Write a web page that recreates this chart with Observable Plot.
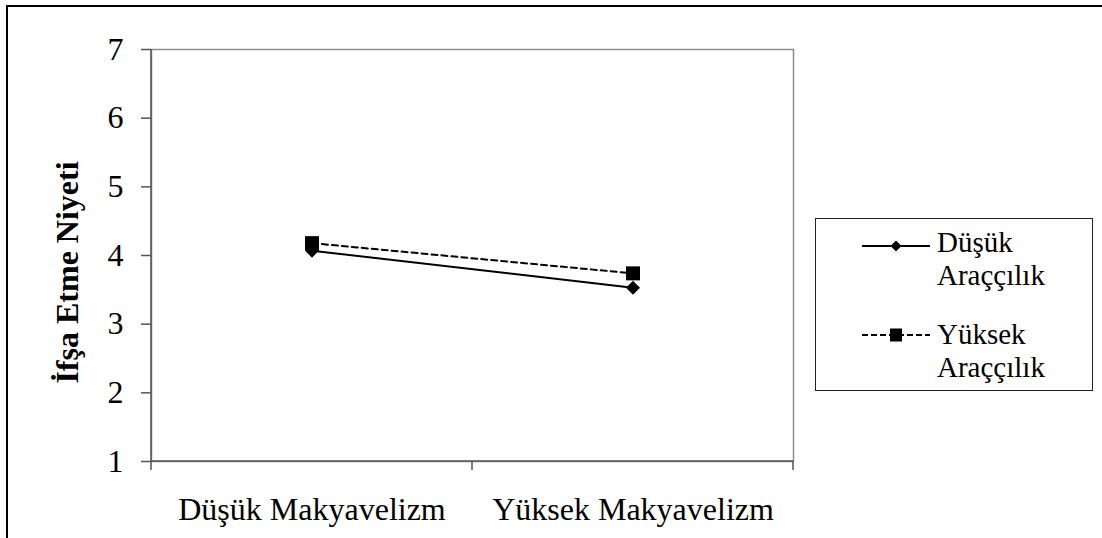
<!DOCTYPE html>
<html><head><meta charset="utf-8">
<script src="https://cdn.jsdelivr.net/npm/d3@7"></script>
<script src="https://cdn.jsdelivr.net/npm/@observablehq/plot@0.6"></script>
<style>
html,body{margin:0;padding:0;background:#fff;}
body{width:1102px;height:538px;position:relative;overflow:hidden;font-family:"Liberation Serif","Times New Roman",serif;}
#outer{position:absolute;left:6px;top:5px;width:1200px;height:700px;border-left:2.5px solid #000;border-top:2.5px solid #000;}
#chart{position:absolute;left:0;top:0;}
#legend{position:absolute;left:815px;top:218px;width:276px;height:171px;border:1px solid #222;background:#fff;}
.entry{position:absolute;left:0;width:276px;}
.entry svg{position:absolute;left:46px;}
.entry .lbl{position:absolute;left:121px;width:150px;font-size:29px;line-height:33px;color:#000;font-family:"Liberation Serif","Times New Roman",serif;}
</style>
</head><body>
<div id="outer"></div>
<div id="chart"></div>
<div id="legend"></div>
<script>
// ---- data ----
const categories = ["Düşük Makyavelizm", "Yüksek Makyavelizm"];
const seriesNames = ["Düşük Araççılık", "Yüksek Araççılık"];
const dusukAraccilik = [4.07, 3.53];
const yuksekAraccilik = [4.18, 3.74];
const yTicks = [1, 2, 3, 4, 5, 6, 7];
const yTitle = "İfşa Etme Niyeti";

const rows1 = categories.map((c, i) => ({cat: c, v: dusukAraccilik[i]}));
const rows2 = categories.map((c, i) => ({cat: c, v: yuksekAraccilik[i]}));

// boundary ticks + axis lines drawn from the x band scale
function bandTicks(index, scales, values, dim) {
  const x = scales.x, y = scales.y;
  const g = d3.create("svg:g").attr("stroke", "#555").attr("stroke-width", 1.5);
  const xs = categories.map(c => x(c)).concat([x(categories[categories.length - 1]) + x.bandwidth()]);
  const y0 = y(yTicks[0]);
  for (const xv of xs) g.append("line").attr("x1", xv).attr("x2", xv).attr("y1", y0).attr("y2", y0 + 9);
  g.append("line").attr("x1", xs[0]).attr("x2", xs[0]).attr("y1", y(yTicks[yTicks.length - 1])).attr("y2", y0);
  g.append("line").attr("x1", xs[0]).attr("x2", xs[xs.length - 1]).attr("y1", y0).attr("y2", y0);
  return g.node();
}

const plot = Plot.plot({
  width: 1102,
  height: 538,
  marginLeft: 151,
  marginRight: 309,
  marginTop: 49,
  marginBottom: 77,
  style: {fontFamily: "'Liberation Serif','Times New Roman',serif", fontSize: "32px", color: "#000", background: "transparent", overflow: "visible"},
  x: {type: "band", domain: categories, padding: 0},
  y: {domain: [1, 7]},
  marks: [
    Plot.frame({stroke: "#8c8c8c", strokeWidth: 1.5}),
    bandTicks,
    Plot.axisY({ticks: yTicks, tickSize: 10, tickPadding: 18, stroke: "#555", strokeWidth: 1.5, fill: "#000", label: null, tickFormat: d => String(d)}),
    Plot.axisX({tickSize: 0, tickPadding: 36, fill: "#000", label: null}),
    Plot.text([yTitle], {frameAnchor: "left", textAnchor: "middle", rotate: -90, dx: -74, dy: 17, lineAnchor: "bottom", fontWeight: "bold", fontSize: 32, fill: "#000"}),
    Plot.line(rows1, {x: "cat", y: "v", stroke: "#000", strokeWidth: 2}),
    Plot.dot(rows1, {x: "cat", y: "v", symbol: "diamond2", r: 6.3, fill: "#000", stroke: "none"}),
    Plot.line(rows2, {x: "cat", y: "v", stroke: "#000", strokeWidth: 2, strokeDasharray: "6,4"}),
    Plot.dot(rows2, {x: "cat", y: "v", symbol: "square", r: 7.9, fill: "#000", stroke: "none"})
  ]
});
document.getElementById("chart").appendChild(plot);

// ---- legend ----
const legend = d3.select("#legend");
const entries = [
  {name: seriesNames[0], dash: null, sym: "diamond", symTop: 17, txtTop: 7},
  {name: seriesNames[1], dash: "6,3", sym: "square", symTop: 106, txtTop: 99}
];
for (const e of entries) {
  const div = legend.append("div").attr("class", "entry");
  const svg = div.append("svg").attr("width", 68).attr("height", 20).style("top", e.symTop + "px");
  svg.append("line").attr("x1", 0).attr("x2", 68).attr("y1", 10).attr("y2", 10)
    .attr("stroke", "#000").attr("stroke-width", 2).attr("stroke-dasharray", e.dash);
  if (e.sym === "diamond") {
    svg.append("path").attr("d", "M34,4.5L39.5,10L34,15.5L28.5,10Z").attr("fill", "#000");
  } else {
    svg.append("rect").attr("x", 28).attr("y", 3.5).attr("width", 12).attr("height", 13).attr("fill", "#000");
  }
  div.append("div").attr("class", "lbl").style("top", e.txtTop + "px").text(e.name);
}
</script>
</body></html>
